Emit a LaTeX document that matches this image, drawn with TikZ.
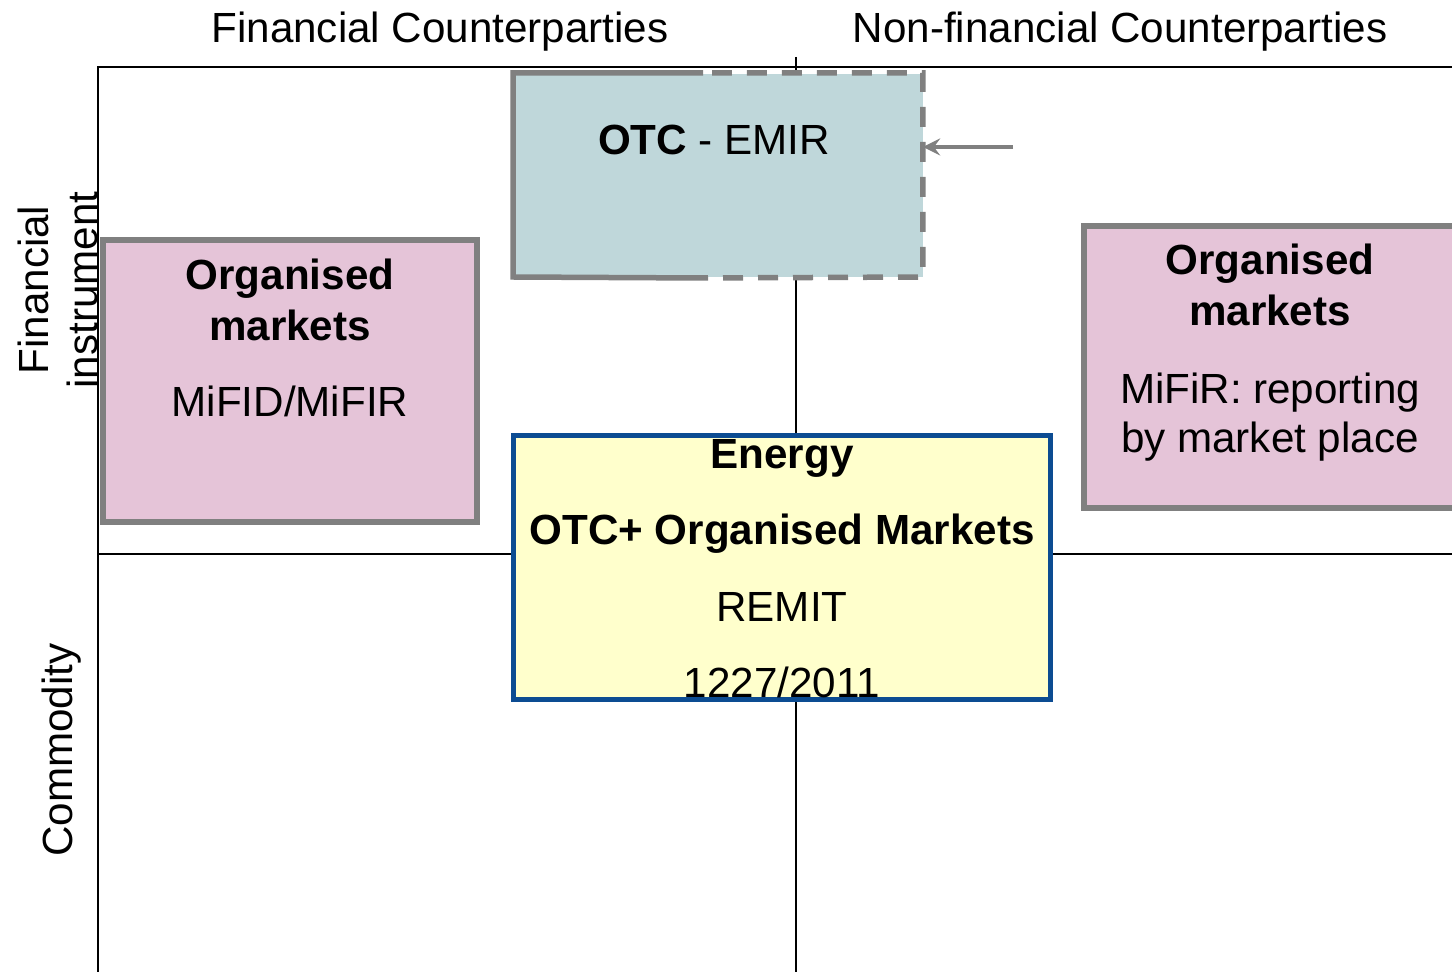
\documentclass[tikz,border=0pt]{standalone}
\usepackage{fontspec}
\setmainfont{Liberation Sans}

\definecolor{otcfill}{RGB}{191,215,218}
\definecolor{orgpink}{RGB}{229,196,216}
\definecolor{remityellow}{RGB}{255,255,204}
\definecolor{remitblue}{RGB}{12,76,146}
\definecolor{boxgray}{RGB}{128,128,128}

\tikzset{axisline/.style={draw=black,line width=0.25mm}}
\tikzset{txt/.style={inner sep=0pt,anchor=base,font=\fontsize{12}{14.2}\selectfont}}
\tikzset{orgbox/.style={rectangle,draw=boxgray,fill=orgpink,line width=0.55mm,minimum width=37.4mm,minimum height=28.2mm,inner sep=0pt}}
\tikzset{otcbox/.style={rectangle,fill=otcfill,minimum width=41mm,minimum height=20.3mm,inner sep=0pt,outer sep=0pt}}
\tikzset{otcsolid/.style={draw=boxgray,line width=0.55mm}}
\tikzset{otcdash/.style={draw=boxgray,line width=0.55mm,dash pattern=on 2mm off 1.5mm,dash phase=2.6mm}}
\tikzset{remitbox/.style={rectangle,draw=remitblue,fill=remityellow,line width=0.5mm,minimum width=53.8mm,minimum height=26.4mm,inner sep=0pt}}
\tikzset{pointer/.style={draw=boxgray,line width=0.4mm,-stealth}}

\begin{document}
\begin{tikzpicture}[x=0.1mm,y=-0.1mm]
    \useasboundingbox (0,0) rectangle (1452,972);
    % quadrant lines
    \coordinate (topleft)  at (98,67);
    \coordinate (topright) at (1452,67);
    \coordinate (midtop)   at (796,57);
    \coordinate (midbot)   at (796,972);
    \coordinate (leftbot)  at (98,972);
    \coordinate (midleft)  at (98,554);
    \coordinate (midright) at (1452,554);
    \draw[axisline] (topright) -- (topleft) -- (leftbot);
    \draw[axisline] (midtop) -- (midbot);
    \draw[axisline] (midleft) -- (midright);
    % headings
    \node[txt] (fincp)    at (440,43)  {Financial Counterparties};
    \node[txt] (nonfincp) at (1120,43) {Non-financial Counterparties};
    \node[txt,rotate=90] (fininst1) at (49,290) {Financial};
    \node[txt,rotate=90] (fininst2) at (98,290) {instrument};
    \node[txt,rotate=90] (commod)   at (73,750) {Commodity};
    % OTC box, right half dashed
    \node[otcbox] (otc) at (718,175.5) {};
    \coordinate (otcsplit) at (703,73);
    \coordinate (otcsplitb) at (703,278);
    \draw[otcsolid] (otcsplit) -| (otc.south west) -- (otcsplitb);
    \draw[otcdash]  (otcsplit) -| (otc.south east) -- (otcsplitb);
    \node[txt] (otctxt) at (714,155) {\textbf{OTC} - EMIR};
    \coordinate (pointfrom) at (1013,147);
    \draw[pointer] (pointfrom) -- (otc.east |- pointfrom);
    % organised markets, financial side
    \node[orgbox] (orgfin) at (290,381) {};
    \node[txt] (orgfin1) at (290,290) {\textbf{Organised}};
    \node[txt] (orgfin2) at (290,341) {\textbf{markets}};
    \node[txt] (orgfin3) at (290,417) {MiFID/MiFIR};
    % organised markets, non-financial side
    \node[orgbox] (orgnon) at (1271,367) {};
    \node[txt] (orgnon1) at (1270,275) {\textbf{Organised}};
    \node[txt] (orgnon2) at (1270,326) {\textbf{markets}};
    \node[txt] (orgnon3) at (1270,404) {MiFiR: reporting};
    \node[txt] (orgnon4) at (1270,453) {by market place};
    % energy box
    \node[remitbox] (remit) at (782,568) {};
    \node[txt] (remit1) at (782,469) {\textbf{Energy}};
    \node[txt] (remit2) at (782,545) {\textbf{OTC+ Organised Markets}};
    \node[txt] (remit3) at (782,622) {REMIT};
    \node[txt] (remit4) at (782,698) {1227/2011};
\end{tikzpicture}
\end{document}
